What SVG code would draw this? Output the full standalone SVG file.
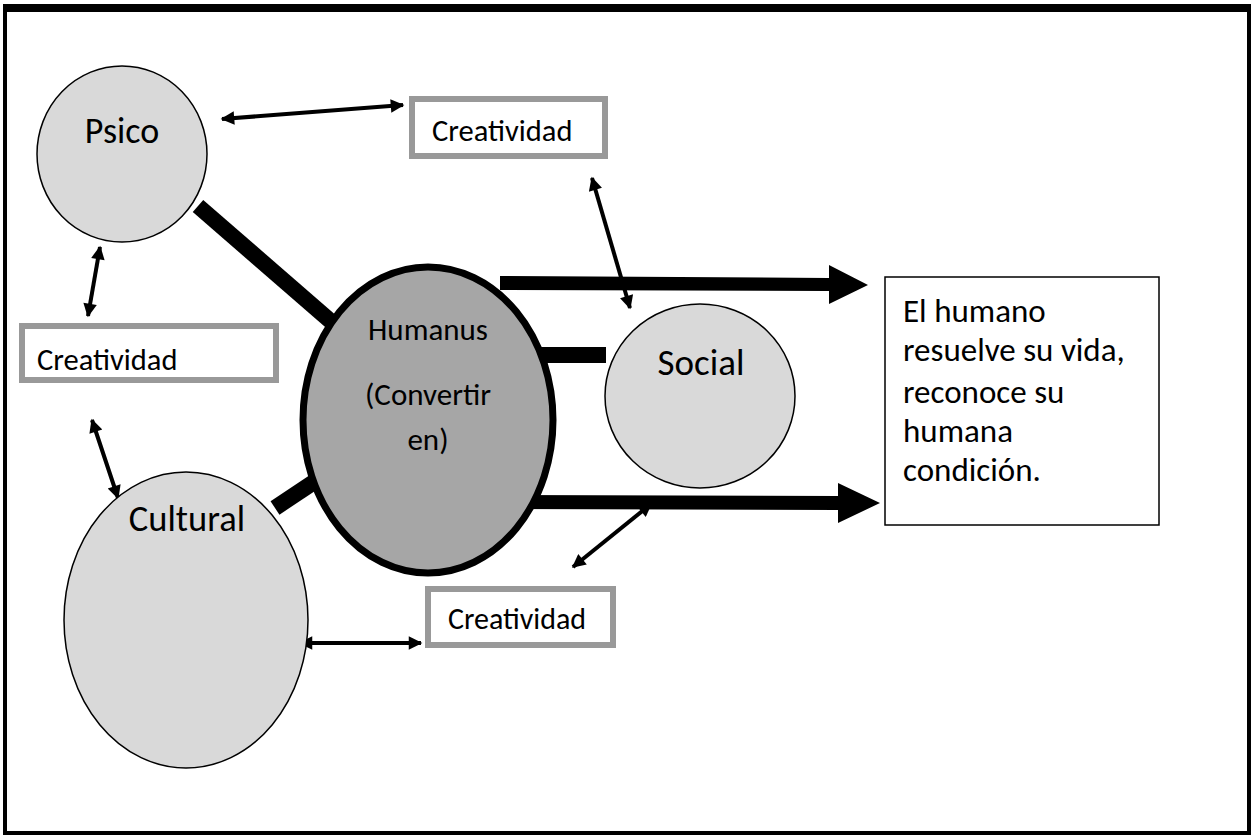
<svg xmlns="http://www.w3.org/2000/svg" width="1254" height="835" viewBox="0 0 1254 835">
<style>
.t{font-family:"Carlito","Liberation Sans",sans-serif;fill:#000}
.sat{fill:#d9d9d9;stroke:#000;stroke-width:1.5}
.cbox{fill:#fff;stroke:#999;stroke-width:6}
.thick{stroke:#000;stroke-width:16;fill:none}
.thin{stroke:#000;stroke-width:4;fill:none;marker-start:url(#ah);marker-end:url(#ah)}
</style>
<defs>
<marker id="ah" viewBox="0 0 10 10" refX="9" refY="5" markerWidth="4" markerHeight="3.4" orient="auto-start-reverse" markerUnits="strokeWidth">
<path d="M0,0 L10,5 L0,10 z" fill="#000"/>
</marker>
</defs>
<rect x="0" y="0" width="1254" height="835" fill="#fff"/>
<g id="frame">
<rect x="5" y="8" width="1244" height="825" fill="none" stroke="#000" stroke-width="4"/>
<rect x="3" y="4" width="1248" height="8" fill="#000"/>
</g>
<g id="connectors">
<line class="thick" x1="198" y1="206" x2="335" y2="325"/>
<line class="thick" x1="275" y1="508" x2="335" y2="468"/>
<line class="thick" x1="540" y1="355" x2="606" y2="355"/>
<path d="M500,276 L829,278 L829,265 L868,285 L829,304 L829,291 L500,290 z" fill="#000"/>
<path d="M503,495 L838,496 L838,483 L880,503 L838,523 L838,510 L503,509 z" fill="#000"/>
<line class="thin" x1="222" y1="119" x2="403" y2="105"/>
<line class="thin" x1="100" y1="247" x2="88" y2="316"/>
<line class="thin" x1="92" y1="420" x2="118" y2="498"/>
<line class="thin" x1="592" y1="178" x2="630" y2="308"/>
<line class="thin" x1="651" y1="504" x2="573" y2="567"/>
<line class="thin" x1="300" y1="643" x2="421" y2="643"/>
</g>
<g id="psico">
<ellipse class="sat" cx="122" cy="154" rx="85" ry="88"/>
<text class="t" x="122" y="143" font-size="36" text-anchor="middle">Psico</text>
</g>
<g id="creatividad-top">
<rect class="cbox" x="412" y="99" width="193" height="57"/>
<text class="t" x="432" y="141" font-size="30.5">Creatividad</text>
</g>
<g id="creatividad-left">
<rect class="cbox" x="22" y="326" width="254" height="54"/>
<text class="t" x="37" y="370" font-size="30.5">Creatividad</text>
</g>
<g id="cultural">
<ellipse class="sat" cx="186" cy="620" rx="122" ry="148"/>
<text class="t" x="187" y="531" font-size="36.5" text-anchor="middle">Cultural</text>
</g>
<g id="humanus">
<ellipse cx="428" cy="420" rx="125" ry="153" fill="#a6a6a6" stroke="#000" stroke-width="7"/>
<text class="t" x="428" y="340" font-size="31" text-anchor="middle">Humanus</text>
<text class="t" x="428" y="405" font-size="31" text-anchor="middle">(Convertir</text>
<text class="t" x="428" y="450" font-size="31" text-anchor="middle">en)</text>
</g>
<g id="social">
<ellipse class="sat" cx="700" cy="396" rx="95" ry="92"/>
<text class="t" x="701" y="375" font-size="37" text-anchor="middle">Social</text>
</g>
<g id="creatividad-bottom">
<rect class="cbox" x="428" y="589" width="185" height="56"/>
<text class="t" x="448" y="629" font-size="30">Creatividad</text>
</g>
<g id="result">
<rect x="885" y="277" width="274" height="248" fill="#fff" stroke="#000" stroke-width="1.5"/>
<text class="t" font-size="33">
<tspan x="903" y="322">El humano</tspan>
<tspan x="903" y="361">resuelve su vida,</tspan>
<tspan x="903" y="403">reconoce su</tspan>
<tspan x="903" y="442">humana</tspan>
<tspan x="903" y="481">condición.</tspan>
</text>
</g>
</svg>
